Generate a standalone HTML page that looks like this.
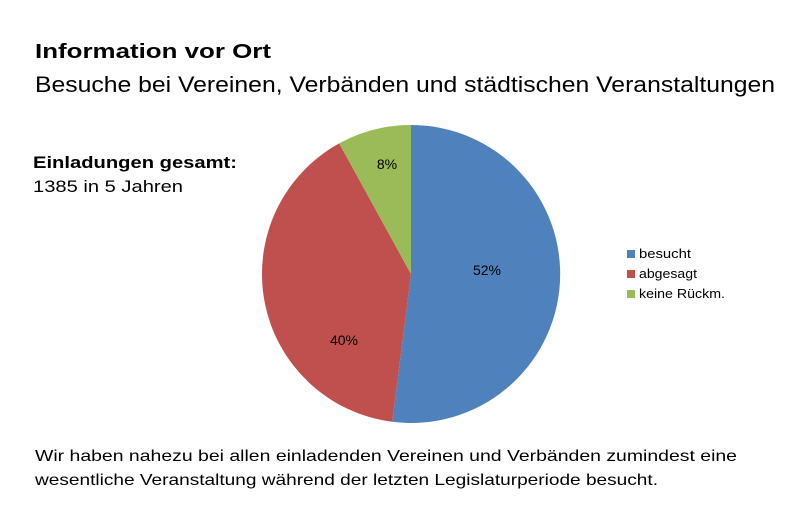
<!DOCTYPE html>
<html><head><meta charset="utf-8"><style>html,body{margin:0;padding:0;background:#fff}svg{display:block}</style></head>
<body>
<svg width="800" height="532" xmlns="http://www.w3.org/2000/svg">
<rect width="800" height="532" fill="#fff"/>
<g font-family="Liberation Sans, sans-serif" fill="#000">
<text x="35" y="58" font-size="20" font-weight="bold" textLength="236" lengthAdjust="spacingAndGlyphs">Information vor Ort</text>
<text x="35" y="92" font-size="22" textLength="740" lengthAdjust="spacingAndGlyphs">Besuche bei Vereinen, Verbänden und städtischen Veranstaltungen</text>
<text x="33" y="168" font-size="17" font-weight="bold" textLength="204" lengthAdjust="spacingAndGlyphs">Einladungen gesamt:</text>
<text x="33" y="192" font-size="17" textLength="150" lengthAdjust="spacingAndGlyphs">1385 in 5 Jahren</text>
<text x="35" y="461" font-size="16" textLength="702" lengthAdjust="spacingAndGlyphs">Wir haben nahezu bei allen einladenden Vereinen und Verbänden zumindest eine</text>
<text x="35" y="485" font-size="16" textLength="623" lengthAdjust="spacingAndGlyphs">wesentliche Veranstaltung  während der letzten Legislaturperiode besucht.</text>
</g>
<path d="M411,274 L411,125 A149,149 0 1,1 392.3,421.8 Z" fill="#4f81bd"/>
<path d="M411,274 L392.3,421.8 A149,149 0 0,1 339.2,143.4 Z" fill="#c0504d"/>
<path d="M411,274 L339.2,143.4 A149,149 0 0,1 411,125 Z" fill="#9bbb59"/>
<g font-family="Liberation Sans, sans-serif" font-size="14" fill="#000" text-anchor="middle">
<text x="487" y="275">52%</text>
<text x="344" y="345">40%</text>
<text x="387" y="169">8%</text>
</g>
<rect x="627" y="250" width="8" height="8" fill="#4f81bd"/>
<rect x="627" y="270" width="8" height="8" fill="#c0504d"/>
<rect x="627" y="290" width="8" height="8" fill="#9bbb59"/>
<g font-family="Liberation Sans, sans-serif" font-size="13" fill="#000">
<text x="639" y="258" textLength="52" lengthAdjust="spacingAndGlyphs">besucht</text>
<text x="639" y="278" textLength="58" lengthAdjust="spacingAndGlyphs">abgesagt</text>
<text x="639" y="298" textLength="86" lengthAdjust="spacingAndGlyphs">keine Rückm.</text>
</g>
</svg>
</body></html>
